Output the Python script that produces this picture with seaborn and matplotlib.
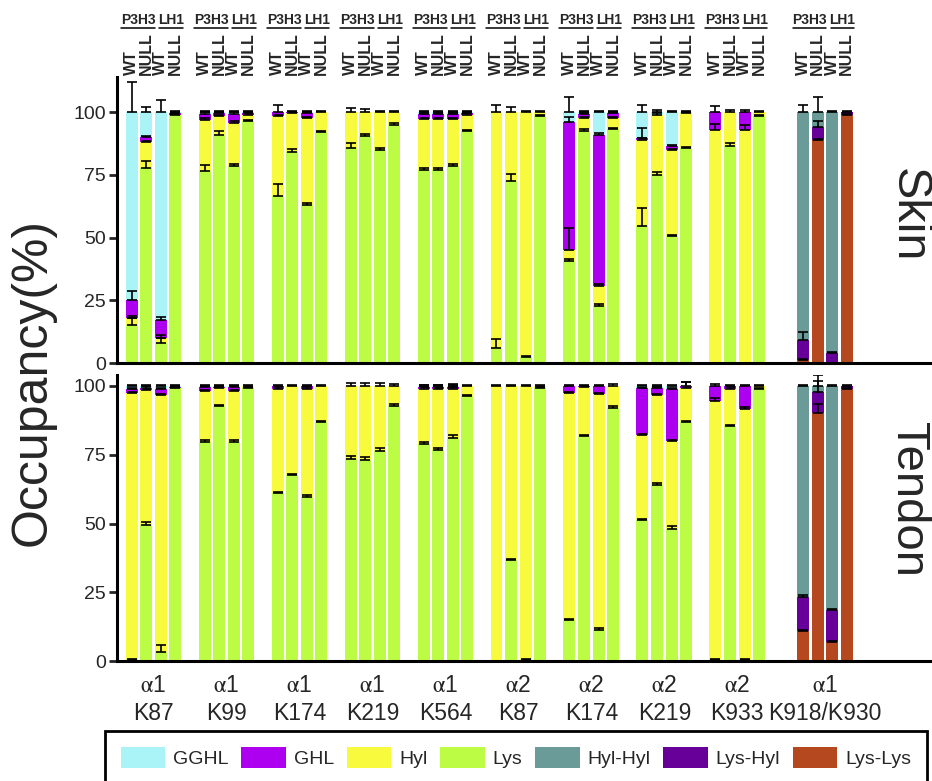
import numpy as np
import pandas as pd
import matplotlib
matplotlib.use("Agg")
import matplotlib.pyplot as plt
import seaborn as sns
from matplotlib.patches import Patch
from matplotlib.transforms import blended_transform_factory

# ---------------------------------------------------------------- data
CHAINS = ["α1", "α1", "α1", "α1", "α1", "α2", "α2", "α2", "α2", "α1"]
SITES = ["K87", "K99", "K174", "K219", "K564", "K87", "K174", "K219", "K933", "K918/K930"]
LINES = ["P3H3", "LH1"]
GENOTYPES = ["WT", "NULL", "WT", "NULL"]

MODS = ["Lys", "Hyl", "GHL", "GGHL"]            # stacked bottom -> top
XLINKS = ["Lys-Lys", "Lys-Hyl", "Hyl-Hyl"]      # stacked bottom -> top

# skin, sites 1-9, 4 bars each (P3H3 WT, P3H3 NULL, LH1 WT, LH1 NULL)
skin_lys = [15.3, 77.7, 8.0, 99.0,   76.4, 91.0, 78.4, 96.3,   66.4, 84.3, 63.1, 91.9,
            85.7, 90.3, 85.0, 95.0,   77.0, 77.0, 78.4, 92.3,   6.0, 72.7, 2.4, 98.3,
            40.5, 92.3, 22.6, 93.2,   54.7, 75.0, 50.5, 85.7,   0.0, 86.3, 0.0, 98.3]
skin_hyl = [2.6, 10.2, 2.0, 0.0,     20.3, 7.5, 17.2, 2.7,     32.1, 15.3, 34.5, 8.1,
            14.3, 9.7, 15.0, 5.0,     20.2, 20.2, 18.8, 6.7,    94.0, 27.3, 97.6, 1.7,
            4.7, 5.3, 7.9, 4.4,       34.3, 24.0, 34.5, 13.9,   93.0, 13.7, 93.0, 1.7]
skin_ghl = [7.3, 2.1, 7.3, 0.5,      2.6, 1.2, 3.7, 0.8,       1.5, 0.4, 2.0, 0.0,
            0.0, 0.0, 0.0, 0.0,       2.1, 2.1, 2.0, 0.8,       0.0, 0.0, 0.0, 0.0,
            50.7, 1.7, 60.5, 2.0,     0.6, 0.0, 1.3, 0.0,       7.0, 0.0, 7.0, 0.0]
skin_gghl = [74.8, 10.0, 82.7, 0.5,  0.7, 0.3, 0.7, 0.2,       0.0, 0.0, 0.4, 0.0,
             0.0, 0.0, 0.0, 0.0,      0.7, 0.7, 0.8, 0.2,       0.0, 0.0, 0.0, 0.0,
             4.1, 0.7, 9.0, 0.4,      10.4, 1.0, 13.7, 0.4,     0.0, 0.0, 0.0, 0.0]

skin_lys_err = [2.5, 3.0, 2.0, 0.3,  2.5, 1.5, 0.8, 0.5,  5.0, 1.0, 0.5, 0.5,
                2.0, 1.0, 0.7, 0.8,  0.8, 0.8, 0.8, 0.5,  3.5, 2.5, 0.5, 0.5,
                1.0, 1.0, 1.0, 0.5,  7.0, 1.0, 0.7, 0.5,  0.0, 1.5, 0.0, 0.5]
skin_hyl_err = [1.0, 0.5, 1.0, 0.0,  1.0, 0.5, 1.0, 0.5,  0.5, 0.3, 0.5, 0.3,
                1.8, 1.2, 0.5, 0.5,  0.5, 0.5, 0.5, 0.5,  3.0, 2.0, 0.5, 0.3,
                8.6, 0.5, 1.0, 0.5,  0.5, 0.5, 0.5, 0.5,  2.4, 1.0, 2.0, 0.5]
skin_ghl_err = [3.5, 0.5, 1.0, 0.3,  0.8, 0.5, 0.8, 0.3,  3.0, 0.5, 0.3, 0.0,
                0.0, 0.0, 0.0, 0.0,  0.5, 0.5, 0.5, 0.3,  0.0, 0.0, 0.0, 0.0,
                2.0, 0.5, 0.5, 0.5,  4.0, 0.0, 0.5, 0.0,  2.5, 0.0, 0.8, 0.0]
skin_gghl_err = [12.0, 2.0, 5.0, 0.3,  0.5, 0.3, 0.3, 0.3,  0.0, 0.0, 0.5, 0.0,
                 0.0, 0.0, 0.0, 0.0,   0.5, 0.5, 0.5, 0.3,  0.0, 0.0, 0.0, 0.0,
                 6.0, 0.5, 0.5, 0.5,   3.0, 1.0, 0.5, 0.5,  0.0, 0.0, 0.0, 0.0]

skin_xl_lyslys = [1.0, 88.7, 0.0, 99.0]
skin_xl_lyshyl = [8.3, 5.3, 4.0, 1.0]
skin_xl_hylhyl = [90.7, 6.0, 96.0, 0.0]
skin_xl_lyslys_err = [0.5, 0.5, 0.0, 0.3]
skin_xl_lyshyl_err = [3.0, 2.5, 0.5, 0.3]
skin_xl_hylhyl_err = [3.0, 6.0, 0.3, 0.0]

# tendon
tendon_lys = [0.5, 49.5, 3.3, 99.4,   79.6, 92.7, 79.6, 99.4,   61.0, 67.6, 59.5, 86.9,
              73.5, 73.0, 76.3, 92.7,  79.0, 76.9, 81.1, 96.4,   0.0, 36.7, 0.3, 99.4,
              14.8, 81.8, 11.2, 92.1,  51.3, 64.1, 47.9, 86.9,   0.5, 85.4, 0.3, 99.0]
tendon_hyl = [96.8, 49.0, 93.4, 0.0,  18.6, 6.7, 18.6, 0.6,    38.0, 32.4, 39.5, 13.1,
              26.5, 27.0, 23.7, 7.3,   20.0, 21.9, 17.9, 3.6,    100.0, 63.3, 99.7, 0.6,
              82.5, 18.0, 85.8, 7.9,   30.7, 32.5, 32.0, 12.5,   94.0, 13.6, 91.4, 1.0]
tendon_ghl = [1.7, 0.9, 2.3, 0.3,     1.6, 0.3, 1.5, 0.0,       1.0, 0.0, 1.0, 0.0,
              0.0, 0.0, 0.0, 0.0,      0.8, 1.0, 0.8, 0.0,       0.0, 0.0, 0.0, 0.0,
              2.7, 0.2, 3.0, 0.0,      17.1, 2.8, 18.9, 0.6,     5.5, 1.0, 8.3, 0.0]
tendon_gghl = [1.0, 0.6, 1.0, 0.3,    0.2, 0.3, 0.3, 0.0,       0.0, 0.0, 0.0, 0.0,
               0.0, 0.0, 0.0, 0.0,     0.2, 0.2, 0.2, 0.0,       0.0, 0.0, 0.0, 0.0,
               0.0, 0.0, 0.0, 0.0,     0.9, 0.6, 1.2, 0.0,       0.0, 0.0, 0.0, 0.0]

tendon_lys_err = [0.3, 1.0, 2.5, 0.3,  0.7, 0.5, 0.7, 0.3,  0.5, 0.5, 0.7, 0.5,
                  1.0, 1.0, 1.0, 0.7,  0.7, 0.7, 1.0, 0.3,  0.0, 0.5, 0.3, 0.3,
                  0.5, 0.5, 0.8, 0.5,  0.5, 0.5, 1.3, 0.5,  0.3, 0.3, 0.3, 0.3]
tendon_hyl_err = [0.5, 0.5, 0.5, 0.0,  0.5, 0.5, 0.5, 0.3,  0.5, 0.3, 0.5, 0.3,
                  1.0, 1.0, 1.0, 0.7,  0.5, 0.5, 0.5, 0.3,  0.3, 0.5, 0.3, 0.3,
                  0.5, 0.3, 0.5, 0.8,  0.5, 0.5, 0.5, 2.0,  1.2, 0.5, 0.5, 0.3]
tendon_ghl_err = [0.3, 0.5, 0.3, 0.3,  0.3, 0.3, 0.3, 0.0,  0.5, 0.0, 0.5, 0.0,
                  0.0, 0.0, 0.0, 0.0,  0.5, 0.5, 0.5, 0.0,  0.0, 0.0, 0.0, 0.0,
                  0.5, 0.3, 0.5, 0.0,  0.3, 0.3, 0.5, 1.5,  0.8, 0.5, 0.5, 0.0]
tendon_gghl_err = [0.3, 0.5, 0.3, 0.3,  0.3, 0.3, 0.3, 0.0,  0.0, 0.0, 0.0, 0.0,
                   0.0, 0.0, 0.0, 0.0,  0.3, 0.3, 0.8, 0.0,  0.0, 0.0, 0.0, 0.0,
                   0.0, 0.0, 0.0, 0.0,  0.3, 0.5, 0.5, 0.0,  0.0, 0.0, 0.0, 0.0]

tendon_xl_lyslys = [10.8, 90.3, 6.9, 99.0]
tendon_xl_lyshyl = [12.6, 7.5, 11.6, 1.0]
tendon_xl_hylhyl = [76.6, 2.2, 81.5, 0.0]
tendon_xl_lyslys_err = [0.5, 3.0, 0.5, 0.3]
tendon_xl_lyshyl_err = [0.5, 4.0, 0.5, 0.5]
tendon_xl_hylhyl_err = [0.5, 4.0, 0.5, 0.0]

COLORS = {
    "GGHL": "#aaf4f8",
    "GHL": "#ad00f0",
    "Hyl": "#f8fa3e",
    "Lys": "#bdfc44",
    "Hyl-Hyl": "#6b9b99",
    "Lys-Hyl": "#670098",
    "Lys-Lys": "#b5481f",
}
LEGEND_ORDER = ["GGHL", "GHL", "Hyl", "Lys", "Hyl-Hyl", "Lys-Hyl", "Lys-Lys"]

# ---------------------------------------------------------------- table
def bar_x(site, j):
    # last site (cross-links) sits one slot further right
    return site * 5 + j + (1 if site == len(SITES) - 1 else 0)


def build_table():
    rows = []
    tissues = {
        "Skin": ([skin_lys, skin_hyl, skin_ghl, skin_gghl],
                 [skin_lys_err, skin_hyl_err, skin_ghl_err, skin_gghl_err],
                 [skin_xl_lyslys, skin_xl_lyshyl, skin_xl_hylhyl],
                 [skin_xl_lyslys_err, skin_xl_lyshyl_err, skin_xl_hylhyl_err]),
        "Tendon": ([tendon_lys, tendon_hyl, tendon_ghl, tendon_gghl],
                   [tendon_lys_err, tendon_hyl_err, tendon_ghl_err, tendon_gghl_err],
                   [tendon_xl_lyslys, tendon_xl_lyshyl, tendon_xl_hylhyl],
                   [tendon_xl_lyslys_err, tendon_xl_lyshyl_err, tendon_xl_hylhyl_err]),
    }
    for tissue, (mods, mod_err, xls, xl_err) in tissues.items():
        for i in range(len(mods[0])):
            site, j = divmod(i, 4)
            cum = 0.0
            for comp, vals, errs in zip(MODS, mods, mod_err):
                cum += vals[i]
                rows.append((tissue, bar_x(site, j), comp, vals[i], cum, errs[i]))
        site = len(SITES) - 1
        for j in range(4):
            cum = 0.0
            for comp, vals, errs in zip(XLINKS, xls, xl_err):
                cum += vals[j]
                rows.append((tissue, bar_x(site, j), comp, vals[j], cum, errs[j]))
    return pd.DataFrame(rows, columns=["tissue", "x", "component", "value", "top", "err"])


df = build_table()

# ---------------------------------------------------------------- plot
sns.set_style("white")
plt.rcParams["font.family"] = ["Liberation Sans", "DejaVu Sans"]
plt.rcParams["mathtext.fontset"] = "stix"

W, H = 932, 781
fig = plt.figure(figsize=(W / 100, H / 100), dpi=100)
ax_skin = fig.add_axes([117 / W, 418 / H, 813 / W, 286 / H])
ax_tendon = fig.add_axes([117 / W, 120 / H, 813 / W, 286 / H])


def draw_panel(ax, tissue, ymax):
    d = df[df.tissue == tissue]
    for comps in (MODS, XLINKS):
        sub = d[d.component.isin(comps)]
        for comp in reversed(comps):
            layer = sub[sub.component == comp]
            sns.barplot(data=layer, x="x", y="top", color=COLORS[comp],
                        native_scale=True, width=0.82, errorbar=None,
                        saturation=1, linewidth=0, ax=ax)
        e = sub[(sub.value > 0) & (sub.err > 0)]
        ax.errorbar(e.x, e.top, yerr=[np.zeros(len(e)), e.err], fmt="none",
                    ecolor="black", elinewidth=1.2, capsize=3.6, capthick=1.2)

    ax.set_xlim(-1.0, 54.7)
    ax.set_ylim(0, ymax)
    ax.set_yticks([0, 25, 50, 75, 100])
    ax.set_xlabel("")
    ax.set_ylabel("")
    for s in ("top", "right"):
        ax.spines[s].set_visible(False)
    for s in ("left", "bottom"):
        ax.spines[s].set_linewidth(2.2)
        ax.spines[s].set_color("black")
    ax.tick_params(axis="y", length=6, width=2, labelsize=14, pad=2, left=True)
    ax.tick_params(axis="x", length=0)


draw_panel(ax_skin, "Skin", 114)
draw_panel(ax_tendon, "Tendon", 104)
ax_skin.set_xticks([])

centres = [bar_x(s, 0) + 1.5 for s in range(len(SITES))]
ax_tendon.set_xticks(centres)
ax_tendon.set_xticklabels([f"$\\mathrm{{\\alpha}}${c[1:]}\n{s}" for c, s in zip(CHAINS, SITES)],
                          fontsize=16.5, linespacing=1.3)
ax_tendon.tick_params(axis="x", pad=9)

# genotype header above the skin panel
trans = blended_transform_factory(ax_skin.transData, ax_skin.transAxes)
for s in range(len(SITES)):
    x0 = bar_x(s, 0)
    ax_skin.text(x0 + 0.45, 1.199, LINES[0], transform=trans, ha="center", va="center",
                 fontsize=10, fontweight="bold")
    ax_skin.text(x0 + 2.7, 1.199, LINES[1], transform=trans, ha="center", va="center",
                 fontsize=10, fontweight="bold")
    ax_skin.plot([x0 - 0.7, x0 + 1.6], [1.17, 1.17], transform=trans,
                 color="black", lw=1.1, clip_on=False)
    ax_skin.plot([x0 + 1.9, x0 + 3.5], [1.17, 1.17], transform=trans,
                 color="black", lw=1.1, clip_on=False)
    for j, g in enumerate(GENOTYPES):
        ax_skin.text(x0 + j, 1.007, g, transform=trans, rotation=90, ha="center",
                     va="bottom", fontsize=11.5, fontweight="bold")

fig.text(33 / W, 1 - 382 / H, "Occupancy(%)", rotation=90, ha="center", va="center",
         fontsize=36)
fig.text(908 / W, 1 - 215 / H, "Skin", rotation=-90, ha="center", va="center",
         fontsize=35)
fig.text(908 / W, 1 - 500 / H, "Tendon", rotation=-90, ha="center", va="center",
         fontsize=34)

handles = [Patch(facecolor=COLORS[c], edgecolor="none") for c in LEGEND_ORDER]
leg = fig.legend(handles, LEGEND_ORDER, loc="upper left",
                 bbox_to_anchor=(105 / W, 1 - 731 / H), ncol=7, frameon=True,
                 fancybox=False, framealpha=1, edgecolor="black",
                 prop={"size": 14},
                 handlelength=2.3, handleheight=1.3, handletextpad=0.4,
                 columnspacing=0.65, borderpad=0.8, borderaxespad=0)
leg.get_frame().set_linewidth(2)

fig.savefig("out.png", dpi=100)
